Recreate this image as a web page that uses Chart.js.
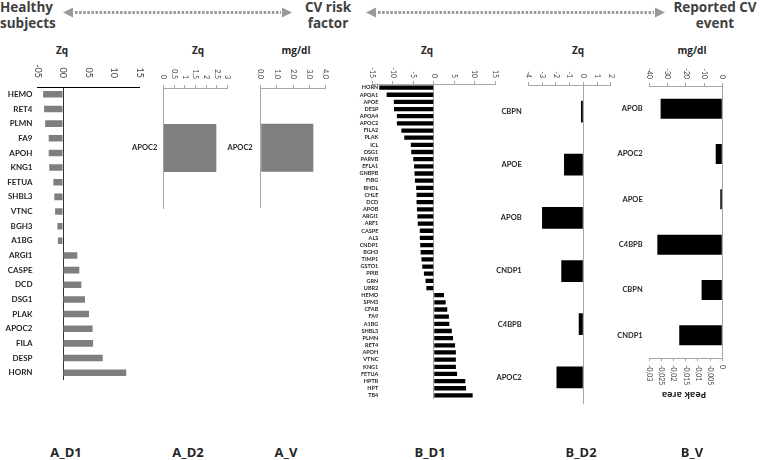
<!DOCTYPE html>
<html>
<head>
<meta charset="utf-8">
<script src="https://cdn.jsdelivr.net/npm/chart.js@4/dist/chart.umd.min.js"></script>
<style>
  html, body { margin: 0; padding: 0; background: #fff; }
  #page { position: relative; width: 760px; height: 460px; overflow: hidden; font-family: "Open Sans", sans-serif; color: #404040; }
  canvas { position: absolute; top: 0; }
  .hd { position: absolute; top: -1px; font-size: 13.5px; line-height: 16px; font-weight: bold; text-align: center; }
  .ax { position: absolute; top: 44px; font-size: 10px; line-height: 12px; font-weight: bold; transform: translateX(-50%); white-space: nowrap; color: #262626; }
  .pn { position: absolute; top: 444px; font-size: 13px; line-height: 16px; font-weight: bold; transform: translateX(-50%); white-space: nowrap; color: #262626; }
</style>
</head>
<body>
<div id="page">
  <svg width="760" height="30" style="position:absolute;left:0;top:0">
    <g fill="#9a9a9a">
      <polygon points="63,12.5 73,7.5 73,17.5"/>
      <polygon points="292,12.5 282,7.5 282,17.5"/>
      <polygon points="366,12.5 376,7.5 376,17.5"/>
      <polygon points="665,12.5 655,7.5 655,17.5"/>
    </g>
    <g stroke="#9a9a9a" stroke-width="3" stroke-dasharray="2.5 1.6">
      <line x1="75" y1="12.5" x2="281" y2="12.5"/>
      <line x1="378" y1="12.5" x2="654" y2="12.5"/>
    </g>
  </svg>
  <div class="hd" style="left:0px;text-align:left">Healthy<br>subjects</div>
  <div class="hd" style="left:286px;width:84px">CV risk<br>factor</div>
  <div class="hd" style="left:670px;width:90px">Reported CV<br>event</div>

  <div class="ax" style="left:62px">Zq</div>
  <div class="ax" style="left:198px">Zq</div>
  <div class="ax" style="left:296px">mg/dl</div>
  <div class="ax" style="left:427px">Zq</div>
  <div class="ax" style="left:578px">Zq</div>
  <div class="ax" style="left:692px">mg/dl</div>

  <canvas id="aD1"></canvas>
  <canvas id="aD2"></canvas>
  <canvas id="aV"></canvas>
  <canvas id="bD1"></canvas>
  <canvas id="bD2"></canvas>
  <canvas id="bV"></canvas>

  <div class="ax" style="left:684px;top:389px;font-size:9px;transform:translateX(-50%) rotate(180deg)">Peak area</div>

  <div class="pn" style="left:66px">A_D1</div>
  <div class="pn" style="left:188px">A_D2</div>
  <div class="pn" style="left:286px">A_V</div>
  <div class="pn" style="left:430px">B_D1</div>
  <div class="pn" style="left:581px">B_D2</div>
  <div class="pn" style="left:692px">B_V</div>
</div>

<script>
// ---- data ----
const aD1Labels = ['HEMO', 'RET4', 'PLMN', 'FA9', 'APOH', 'KNG1', 'FETUA', 'SHBL3', 'VTNC', 'BGH3', 'A1BG',
  'ARGI1', 'CASPE', 'DCD', 'DSG1', 'PLAK', 'APOC2', 'FILA', 'DESP', 'HORN'];
const aD1Values = [-0.39, -0.37, -0.35, -0.28, -0.28, -0.27, -0.19, -0.17, -0.155, -0.11, -0.10,
  0.28, 0.32, 0.36, 0.43, 0.51, 0.58, 0.59, 0.78, 1.24];
const aD1Ticks = [-0.5, 0, 0.5, 1, 1.5];
const aD1TickLabels = ['-05', '00', '05', '10', '15'];

const aD2Labels = ['APOC2'];
const aD2Values = [2.47];
const aD2Ticks = [0, 0.5, 1, 1.5, 2, 2.5, 3];
const aD2TickLabels = ['0', '0,5', '1', '1,5', '2', '2,5', '3'];

const aVLabels = ['APOC2'];
const aVValues = [3.24];
const aVTicks = [0, 1, 2, 3, 4];
const aVTickLabels = ['0,0', '1,0', '2,0', '3,0', '4,0'];

const bD1Labels = ['HORN', 'APOA1', 'APOE', 'DESP', 'APOA4', 'APOC2', 'FILA2', 'PLAK', 'ICL', 'DSG1',
  'PARVB', 'EFLA1', 'GNBPB', 'FIBG', 'BHDL', 'CHLE', 'DCD', 'APOB', 'ARGI1', 'ARF1', 'CASPE', 'ALS',
  'CNDP1', 'BGH3', 'TIMP1', 'GSTO1', 'PPIB', 'GRN', 'UBR2', 'HEMO', 'SPM3', 'CFAB', 'FA9', 'A1BG',
  'SHBL3', 'PLMN', 'RET4', 'APOH', 'VTNC', 'KNG1', 'FETUA', 'HPTR', 'HPT', 'TB4'];
const bD1Values = [-13.3, -11.5, -9.75, -9.7, -9.0, -9.0, -7.9, -7.2, -5.6, -5.5,
  -5.0, -4.8, -4.7, -4.6, -4.3, -4.2, -4.2, -4.1, -4.0, -3.9, -3.4, -3.4,
  -3.3, -3.2, -3.0, -2.8, -2.4, -2.0, -1.8, 2.5, 2.9, 3.3, 3.7, 3.8,
  4.4, 4.7, 5.2, 5.4, 5.4, 5.4, 5.7, 7.7, 7.9, 9.5];
const bD1Ticks = [-15, -10, -5, 0, 5, 10, 15];
const bD1TickLabels = ['-15', '-10', '-5', '0', '5', '10', '15'];

const bD2Labels = ['CBPN', 'APOE', 'APOB', 'CNDP1', 'C4BPB', 'APOC2'];
const bD2Values = [-0.17, -1.4, -3.0, -1.6, -0.33, -1.95];
const bD2Ticks = [-4, -3, -2, -1, 0, 1, 2];
const bD2TickLabels = ['-4', '-3', '-2', '-1', '0', '1', '2'];

const bVLabels = ['APOB', 'APOC2', 'APOE', 'C4BPB', 'CBPN', 'CNDP1'];
const bVMgdl = [-33.8, -3.6, -1.1, -35.6, null, null];
const bVPeakArea = [null, null, null, null, -0.0085, -0.0177];
const bVTicks = [-40, -30, -20, -10, 0];
const bVTickLabels = ['-40', '-30', '-20', '-10', '0'];
const bVAreaTicks = [-0.03, -0.025, -0.02, -0.015, -0.01, -0.005, 0];
const bVAreaTickLabels = ['-0,03', '-0,025', '-0,02', '-0,015', '-0,01', '-0,005', '0'];

// ---- helpers ----
const FONT = 'Lato, "Open Sans", sans-serif';
const GREY = '#a6a6a6';

// tick labels turned 90deg clockwise (read top to bottom)
const cwTicks = {
  id: 'cwTicks',
  afterDraw(chart, args, opts) {
    const ctx = chart.ctx;
    (opts.axes || []).forEach(ax => {
      const sc = chart.scales[ax.id];
      const g = sc.options.grid;
      const tl = g.drawTicks ? g.tickLength : 0;
      const pad = sc.options.ticks.padding;
      const top = sc.options.position === 'top';
      const y = top ? sc.bottom - tl - pad : sc.top + tl + pad;
      ctx.save();
      ctx.font = ax.size + 'px ' + FONT;
      ctx.fillStyle = '#404040';
      ctx.textBaseline = 'middle';
      ctx.textAlign = top ? 'right' : 'left';
      sc.ticks.forEach((t, i) => {
        ctx.save();
        ctx.translate(sc.getPixelForTick(i), y);
        ctx.rotate(Math.PI / 2);
        ctx.fillText(t.label, 0, 0);
        ctx.restore();
      });
      ctx.restore();
    });
  }
};

// category names that may run a little into the plot (B_D1)
const sideLabels = {
  id: 'sideLabels',
  afterDraw(chart, args, opts) {
    if (!opts.size) return;
    const sc = chart.scales.y;
    const ctx = chart.ctx;
    ctx.save();
    ctx.font = 'bold ' + opts.size + 'px ' + FONT;
    ctx.fillStyle = '#262626';
    ctx.textAlign = 'right';
    ctx.textBaseline = 'middle';
    sc.ticks.forEach((t, i) => {
      ctx.fillText(sc.getLabelForValue(t.value), sc.right + opts.overlap, sc.getPixelForTick(i));
    });
    ctx.restore();
  }
};

function valueAxis(o) {
  return {
    type: 'linear',
    position: o.position || 'top',
    min: o.ticks[0],
    max: o.ticks[o.ticks.length - 1],
    afterBuildTicks: s => { s.ticks = o.ticks.map(v => ({ value: v })); },
    afterFit: s => { s.height = o.height; },
    border: { display: true, color: o.lineColor || GREY, width: 1 },
    grid: {
      drawOnChartArea: !!o.zeroLine,
      color: c => (o.zeroLine && c.tick && c.tick.value === 0) ? o.zeroLine : 'rgba(0,0,0,0)',
      drawTicks: o.tickLength > 0,
      tickLength: o.tickLength || 0,
      tickColor: o.lineColor || GREY
    },
    ticks: {
      color: 'rgba(0,0,0,0)',
      padding: o.pad,
      minRotation: 90,
      maxRotation: 90,
      autoSkip: false,
      font: { size: o.size, family: FONT },
      callback: (v, i) => o.labels[i]
    }
  };
}

function catAxis(o) {
  return {
    type: 'category',
    afterFit: s => { s.width = o.width; },
    border: { display: !!o.border, color: o.border || 'rgba(0,0,0,0)' },
    grid: { display: false, drawTicks: false },
    ticks: {
      color: o.hidden ? 'rgba(0,0,0,0)' : '#262626',
      padding: o.pad,
      autoSkip: false,
      font: { size: o.size, weight: 'bold', family: FONT }
    }
  };
}

function panel(id, box, datasets, scales, cwAxes, side) {
  const canvas = document.getElementById(id);
  canvas.width = box.w;
  canvas.height = box.h;
  canvas.style.left = box.left + 'px';
  return new Chart(canvas, {
    type: 'bar',
    data: { labels: box.labels, datasets: datasets },
    options: {
      responsive: false,
      animation: false,
      indexAxis: 'y',
      layout: { padding: { left: 0, top: 0, right: box.w - (box.right - box.left), bottom: box.bottomPad } },
      plugins: {
        legend: { display: false },
        tooltip: { enabled: false },
        cwTicks: { axes: cwAxes },
        sideLabels: side || {}
      },
      scales: scales
    },
    plugins: [cwTicks, sideLabels]
  });
}

// ---- A_D1 ----
panel('aD1', { left: 0, w: 150, h: 395, right: 139.5, bottomPad: 15, labels: aD1Labels },
  [{ data: aD1Values, backgroundColor: '#7f7f7f', barPercentage: 0.45, categoryPercentage: 1 }],
  {
    x: valueAxis({ ticks: aD1Ticks, labels: aD1TickLabels, height: 87, pad: 9, size: 9, tickLength: 0, lineColor: '#000', zeroLine: '#333' }),
    y: catAxis({ width: 37.5, pad: 5, size: 8 })
  },
  [{ id: 'x', size: 9 }]);

// ---- A_D2 ----
panel('aD2', { left: 120, w: 118, h: 220, right: 227.7, bottomPad: 12, labels: aD2Labels },
  [{ data: aD2Values, backgroundColor: '#7f7f7f', barPercentage: 0.4, categoryPercentage: 1 }],
  {
    x: valueAxis({ ticks: aD2Ticks, labels: aD2TickLabels, height: 88, pad: 6, size: 7, tickLength: 3 }),
    y: catAxis({ width: 43.3, pad: 6, size: 7.5, border: GREY })
  },
  [{ id: 'x', size: 7 }]);

// ---- A_V ----
panel('aV', { left: 212, w: 124, h: 220, right: 325.7, bottomPad: 12, labels: aVLabels },
  [{ data: aVValues, backgroundColor: '#7f7f7f', barPercentage: 0.4, categoryPercentage: 1 }],
  {
    x: valueAxis({ ticks: aVTicks, labels: aVTickLabels, height: 88, pad: 6, size: 7, tickLength: 3 }),
    y: catAxis({ width: 48.7, pad: 8, size: 7.5, border: GREY })
  },
  [{ id: 'x', size: 7 }]);

// ---- B_D1 ----
panel('bD1', { left: 340, w: 165, h: 410, right: 495.2, bottomPad: 11, labels: bD1Labels },
  [{ data: bD1Values, backgroundColor: '#000', barPercentage: 0.6, categoryPercentage: 1 }],
  {
    x: valueAxis({ ticks: bD1Ticks, labels: bD1TickLabels, height: 84, pad: 3, size: 7, tickLength: 3, zeroLine: GREY }),
    y: catAxis({ width: 32.3, pad: 0, size: 5.5, hidden: true })
  },
  [{ id: 'x', size: 7 }],
  { size: 5.5, overlap: 6 });

// ---- B_D2 ----
panel('bD2', { left: 480, w: 140, h: 415, right: 610.8, bottomPad: 10, labels: bD2Labels },
  [{ data: bD2Values, backgroundColor: '#000', barPercentage: 0.41, categoryPercentage: 1 }],
  {
    x: valueAxis({ ticks: bD2Ticks, labels: bD2TickLabels, height: 85, pad: 4, size: 7, tickLength: 3, zeroLine: GREY }),
    y: catAxis({ width: 48.3, pad: 6.6, size: 7.5 })
  },
  [{ id: 'x', size: 7 }]);

// ---- B_V ----
panel('bV', { left: 600, w: 135, h: 400, right: 722.3, bottomPad: 10, labels: bVLabels },
  [
    { data: bVMgdl, xAxisID: 'x', backgroundColor: '#000', barPercentage: 0.44, categoryPercentage: 1, grouped: false },
    { data: bVPeakArea, xAxisID: 'x2', backgroundColor: '#000', barPercentage: 0.44, categoryPercentage: 1, grouped: false }
  ],
  {
    x: valueAxis({ ticks: bVTicks, labels: bVTickLabels, height: 86, pad: 4, size: 7, tickLength: 3, zeroLine: GREY }),
    x2: valueAxis({ position: 'bottom', ticks: bVAreaTicks, labels: bVAreaTickLabels, height: 32, pad: 4, size: 7, tickLength: 3 }),
    y: catAxis({ width: 49.3, pad: 6.6, size: 7.5 })
  },
  [{ id: 'x', size: 7 }, { id: 'x2', size: 7 }]);
</script>
</body>
</html>
